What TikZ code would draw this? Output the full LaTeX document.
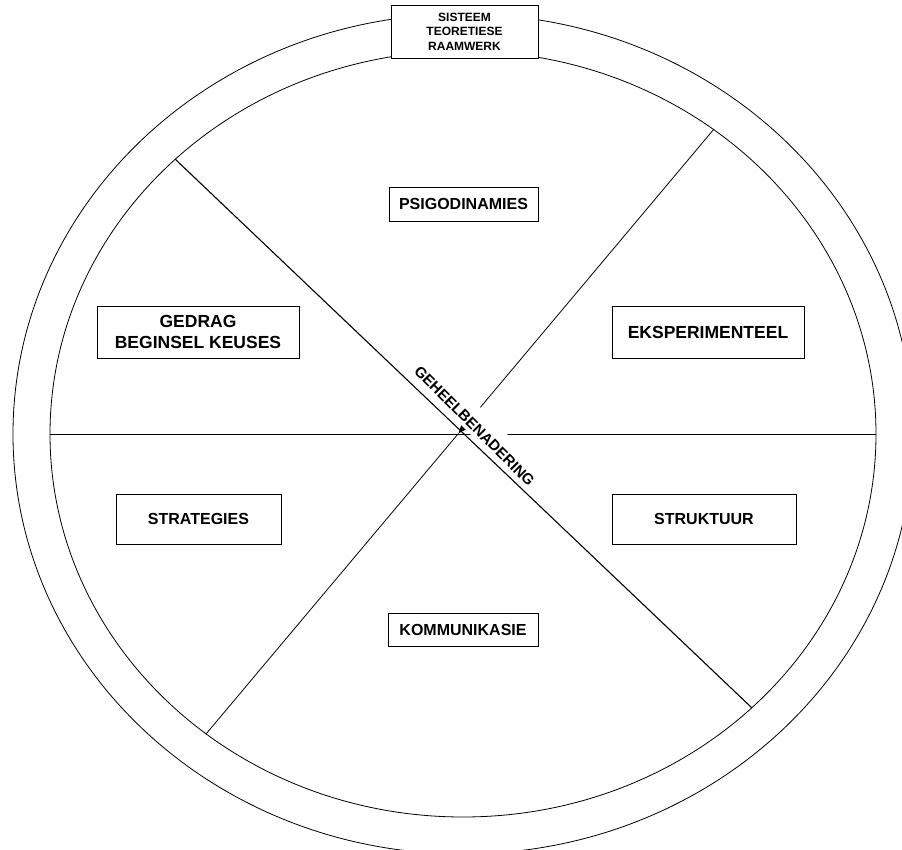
\documentclass[tikz,border=0pt]{standalone}
\usepackage{fontspec}
\setmainfont{Liberation Sans}
\usetikzlibrary{arrows.meta}
\begin{document}
\begin{tikzpicture}[x=1pt,y=-1pt,
  ring/.style={line width=0.8pt, black},
  ln/.style={line width=0.8pt, black},
  boxlbl/.style={draw, line width=0.8pt, fill=white, align=center, inner sep=0pt,
    font=\fontsize{16}{21}\selectfont\bfseries},
  bigbox/.style={boxlbl, font=\fontsize{17.5}{21}\selectfont\bfseries},
  toplbl/.style={draw, line width=0.8pt, fill=white, align=center, inner sep=0pt,
    font=\fontsize{12}{14.5}\selectfont\bfseries},
  diaglbl/.style={fill=white, inner xsep=3pt, inner ysep=0pt, text height=22.25pt, text depth=3.75pt,
    font=\fontsize{15}{18}\selectfont\bfseries}]
\useasboundingbox (0,0) rectangle (902,850);
\clip (0,0) rectangle (902,850);
\fill[white] (0,0) rectangle (902,850);

% rings
\draw[ring] (463,434) ellipse [x radius=450pt, y radius=420pt];
\draw[ring] (463,434) ellipse [x radius=413pt, y radius=383pt];

% connector end points
\coordinate (c)  at (458,434);
\coordinate (nw) at (175,159);
\coordinate (se) at (752,708);
\coordinate (ne) at (714,129);
\coordinate (sw) at (206,734);
\coordinate (w)  at (50,434);
\coordinate (e)  at (876,434);

% lines hidden partly behind the label
\draw[ln, -{Latex[length=9pt,width=7pt]}] (ne) -- (c);
\draw[ln] (w) -- (e);

% central label
\node[diaglbl, rotate=-45] (geheel) at (477.4,423) {GEHEELBENADERING};

% lines on top
\draw[ln, line width=1.1pt] (nw) -- (se);
\draw[ln] (sw) -- (c);

% boxes
\node[toplbl, minimum width=147pt, minimum height=53pt] (sisteem) at (464.5,31.5)
  {SISTEEM\\TEORETIESE\\RAAMWERK};
\node[boxlbl, minimum width=149pt, minimum height=34pt] (psigo) at (463.5,204) {PSIGODINAMIES};
\node[bigbox, minimum width=202pt, minimum height=52pt] (gedrag) at (198,332) {GEDRAG\\BEGINSEL KEUSES};
\node[bigbox, minimum width=192pt, minimum height=52pt] (eksp) at (708,332) {EKSPERIMENTEEL};
\node[boxlbl, minimum width=165pt, minimum height=50pt] (strat) at (198.5,519) {STRATEGIES};
\node[boxlbl, minimum width=184pt, minimum height=50pt] (strukt) at (704,519) {STRUKTUUR};
\node[boxlbl, minimum width=150pt, minimum height=33pt] (kommun) at (463,630) {KOMMUNIKASIE};
\end{tikzpicture}
\end{document}
